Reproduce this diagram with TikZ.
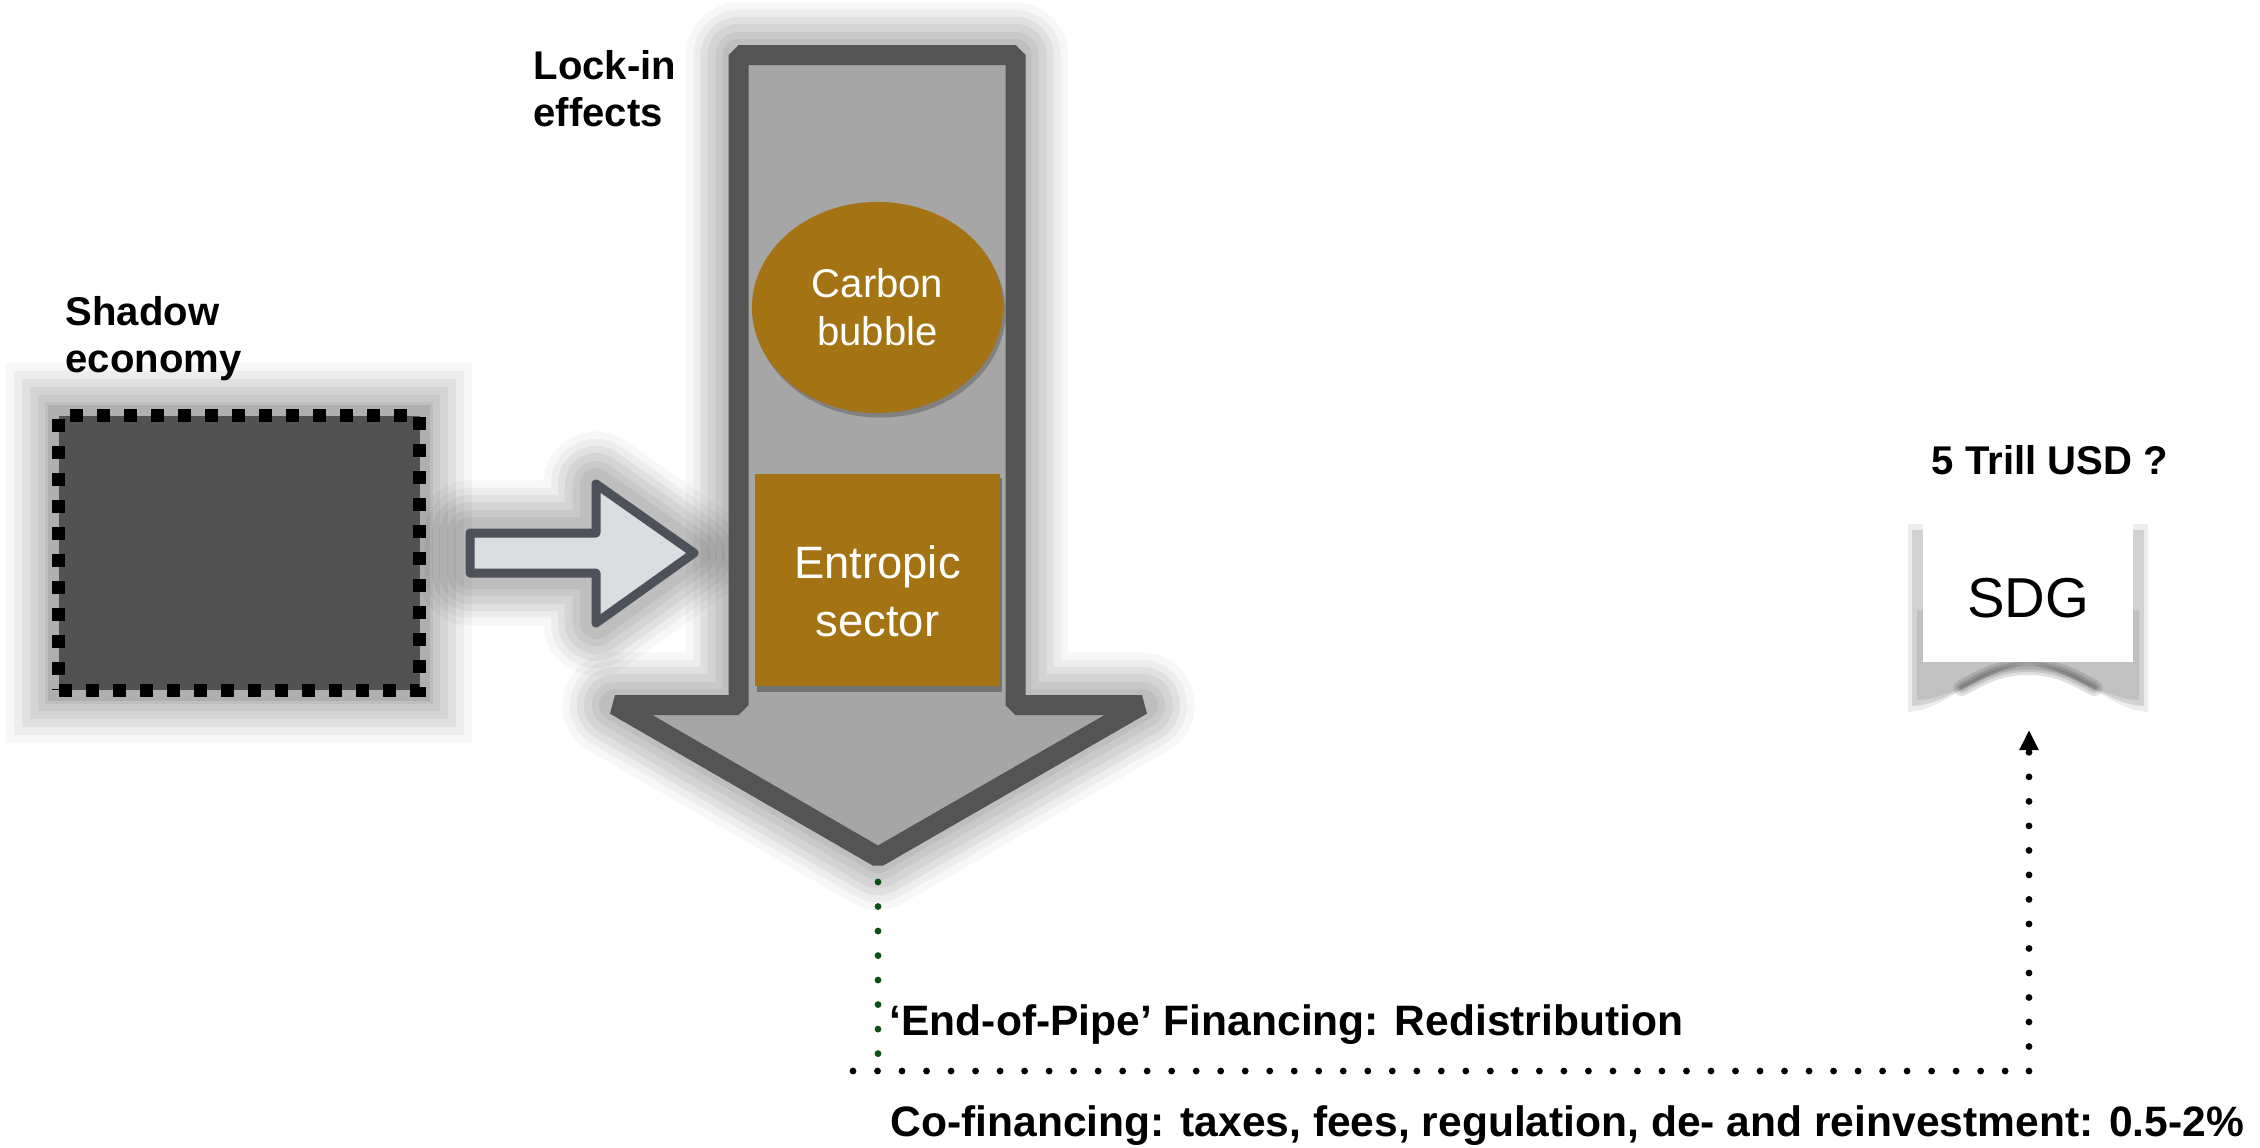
\documentclass[tikz,border=0pt]{standalone}
\usepackage{fontspec}
\setmainfont{Liberation Sans}
\usetikzlibrary{shapes.geometric,arrows.meta}
\definecolor{brownfill}{HTML}{A47414}
\definecolor{boxdark}{HTML}{525252}
\definecolor{arrowfill}{HTML}{A6A6A6}
\definecolor{arrowline}{HTML}{545454}
\definecolor{smallfill}{HTML}{DCDDE0}
\definecolor{smallline}{HTML}{4D525A}
\definecolor{dotgreen}{HTML}{0B5016}
\tikzset{
  lbl/.style={font=\bfseries\fontsize{11.4}{13.4}\selectfont, align=left, inner sep=0pt},
  btxt/.style={font=\bfseries\fontsize{12.1}{14}\selectfont, inner sep=0pt},
  whitetxt/.style={text=white, align=center, inner sep=0pt},
  dotline/.style={line width=0.068cm, dash pattern=on 0pt off 0.245cm, line cap=round},
  shadowbox/.style={rectangle, fill=boxdark, draw=black, line width=0.13cm,
    dash pattern=on 0.13cm off 0.14cm, minimum width=3.61cm, minimum height=2.74cm, inner sep=0pt},
  brownbox/.style={rectangle, fill=brownfill, minimum width=2.45cm, minimum height=2.12cm, inner sep=0pt},
  brownell/.style={ellipse, fill=brownfill, minimum width=2.51cm, minimum height=2.11cm, inner sep=0pt},
  sdgbox/.style={rectangle, fill=white, minimum width=2.10cm, minimum height=1.49cm, inner sep=0pt,
    font=\fontsize{16}{19}\selectfont, text height=0.6cm, text depth=0pt},
  glow/.style={black, opacity=0.05, line join=round}
}
\begin{document}
\begin{tikzpicture}[x=0.01cm,y=-0.01cm]
\useasboundingbox[fill=white] (0,0) rectangle (2260,1147);

% ---- halos (soft glows) ----
\foreach \e/\o in {46/0.03,38/0.04,30/0.05,22/0.05,14/0.05,7/0.05}{
  \fill[glow, opacity=\o] (52-\e,409-\e) rectangle (426+\e,697+\e);
}
\fill[black, opacity=0.08] (52-4,409-4) rectangle (426+4,697+4);
\foreach \w/\o in {1.05cm/0.03,0.9cm/0.04,0.76cm/0.05,0.62cm/0.05,0.46cm/0.05,0.32cm/0.05}{
  \draw[glow, opacity=\o, line width=\w]
    (470,533) -- (596,533) -- (596,484) -- (694,553) -- (596,623) -- (596,573) -- (470,573) -- cycle;
  \draw[glow, opacity=\o, line width=\w]
    (738.5,55) -- (1015.5,55) -- (1015.5,705) -- (1142,705) -- (878,857) -- (615,705) -- (738.5,705) -- cycle;
}

% ---- shadow economy box ----
\node[shadowbox] (shadow) at (239.25,553) {};
\node[lbl, anchor=north west] (shadowlbl) at (65,296) {Shadow\\economy};

% ---- small block arrow ----
\draw[fill=smallfill, draw=smallline, line width=0.09cm, line join=round]
  (470,533) -- (596,533) -- (596,484) -- (694,553) -- (596,623) -- (596,573) -- (470,573) -- cycle;

% ---- big down arrow ----
\draw[fill=arrowfill, draw=arrowline, line width=0.2cm, line join=bevel]
  (738.5,55) -- (1015.5,55) -- (1015.5,705) -- (1142,705) -- (878,857) -- (615,705) -- (738.5,705) -- cycle;
\coordinate (tip) at (878,882);
\node[lbl, anchor=north west] (lockin) at (533,50) {Lock-in\\effects};

% ---- carbon bubble & entropic sector ----
\fill[black, opacity=0.22] (880,312) ellipse [x radius=125.5, y radius=105.5];
\node[brownell, font=\fontsize{11.4}{13.7}\selectfont, whitetxt] (carbon) at (877.5,307.5) {Carbon\\bubble};
\fill[black, opacity=0.3] (757,478) rectangle (1002,692);
\node[brownbox] (entropic) at (877.5,580) {};
\node[whitetxt, font=\fontsize{12.9}{16.5}\selectfont] (entropictxt) at (877.5,591) {Entropic\\sector};

% ---- SDG box with curled shadow ----
\fill[black, opacity=0.07] (1908,524) -- (1908,712) .. controls (1942,712) and (1980,668) .. (2028,662) .. controls (2076,668) and (2114,712) .. (2148,712) -- (2148,524) -- cycle;
\fill[black, opacity=0.11] (1912,530) -- (1912,706) .. controls (1946,706) and (1986,668) .. (2028,664) .. controls (2070,668) and (2110,706) .. (2144,706) -- (2144,530) -- cycle;
\fill[black, opacity=0.08] (1917,610) -- (1917,700) .. controls (1950,700) and (1990,668) .. (2028,666) .. controls (2066,668) and (2106,700) .. (2139,700) -- (2139,610) -- cycle;
\foreach \w in {0.16cm,0.1cm,0.05cm}{
  \draw[black, opacity=0.12, line width=\w, line cap=round] (1962,688) .. controls (1990,672) and (2005,667) .. (2028,667) .. controls (2051,667) and (2066,672) .. (2094,688);
}
\node[sdgbox] (sdg) at (2028,587.5) {SDG};
\node[lbl] (trill) at (2050,460) {5 Trill USD ?};

% ---- connectors ----
\coordinate (hl) at (853,1071);
\coordinate (hr) at (2029,1071);
\coordinate (gbot) at (878,1075);
\coordinate (sdgin) at (2029,730);
\draw[dotline, dotgreen] (tip) -- (gbot);
\draw[dotline, black] (hl) -- (hr);
\draw[dotline, black, -{Triangle[length=0.2cm,width=0.18cm]}] (hr) -- (sdgin);

% ---- bottom texts ----
\node[btxt, anchor=base west] (eop) at (889,1035) {‘End-of-Pipe’ Financing: Redistribution};
\node[btxt, anchor=base west] (cofin) at (890,1136) {Co-financing: taxes, fees, regulation, de- and reinvestment: 0.5-2\%};
\end{tikzpicture}
\end{document}
